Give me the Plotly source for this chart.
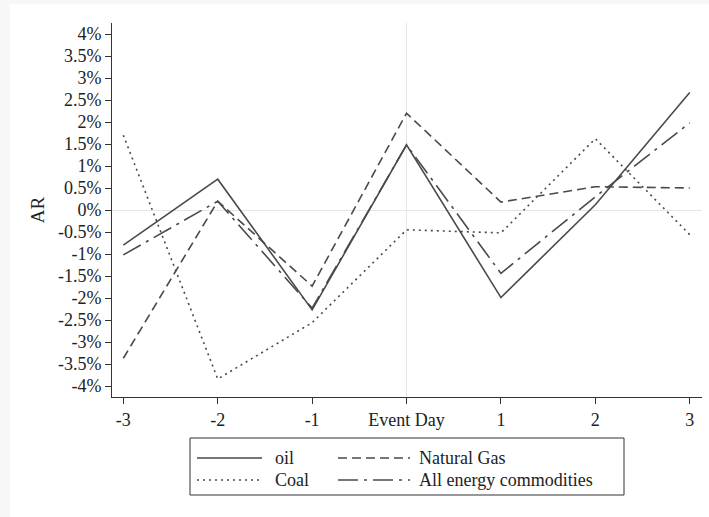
import plotly.graph_objects as go

# Event-window abnormal returns (%), days -3 .. +3
days = [-3, -2, -1, 0, 1, 2, 3]
day_labels = ["-3", "-2", "-1", "Event Day", "1", "2", "3"]

oil = [-0.80, 0.70, -2.27, 1.48, -1.99, 0.12, 2.67]
natural_gas = [-3.37, 0.20, -1.73, 2.20, 0.18, 0.53, 0.50]
coal = [1.70, -3.84, -2.56, -0.45, -0.52, 1.62, -0.56]
all_energy = [-1.02, 0.20, -2.23, 1.48, -1.44, 0.30, 1.98]

y_ticks = [4, 3.5, 3, 2.5, 2, 1.5, 1, 0.5, 0, -0.5, -1, -1.5, -2, -2.5, -3, -3.5, -4]
y_tick_text = [f"{v:g}%" for v in y_ticks]

series = [
    ("oil", oil, "solid"),
    ("Natural Gas", natural_gas, "9px,5px"),
    ("Coal", coal, "2px,4px"),
    ("All energy commodities", all_energy, "20px,6px,3px,6px"),
]

LINE_COLOR = "#4a4a4a"
FONT = "Liberation Serif"
FS = 18

W, H = 709, 517
L, R, T, B = 112, 7, 23, 120
PW, PH = W - L - R, H - T - B


def px(x):
    return (x - L) / PW


def py(y):
    return (H - B - y) / PH


fig = go.Figure()
for name, vals, dash in series:
    fig.add_trace(go.Scatter(
        x=days, y=vals, mode="lines", name=name, showlegend=False,
        line=dict(color=LINE_COLOR, width=1.6, dash=dash),
    ))

shapes = []
annotations = []

# outer frame of the graph region
shapes.append(dict(type="rect", xref="paper", yref="paper",
                   x0=px(10), x1=px(W + 5), y0=py(4), y1=py(H + 5),
                   fillcolor="white", line=dict(width=0), layer="below"))

# legend box
shapes.append(dict(type="rect", xref="paper", yref="paper",
                   x0=px(190), x1=px(624), y0=py(438), y1=py(495),
                   fillcolor="white", line=dict(color="#333333", width=1)))

legend_slots = [
    (197, 262, 273, 458),
    (338, 410, 417, 458),
    (197, 262, 273, 480),
    (338, 410, 417, 480),
]
for (name, _, dash), (lx0, lx1, tx, ly) in zip(series, legend_slots):
    shapes.append(dict(type="line", xref="paper", yref="paper",
                       x0=px(lx0), x1=px(lx1), y0=py(ly), y1=py(ly),
                       line=dict(color=LINE_COLOR, width=1.6, dash=dash)))
    annotations.append(dict(xref="paper", yref="paper", x=px(tx), y=py(ly),
                            text=name, showarrow=False, xanchor="left",
                            yanchor="middle",
                            font=dict(family=FONT, size=FS, color="#222222")))

fig.update_layout(
    width=W, height=H,
    margin=dict(l=L, r=R, t=T, b=B),
    paper_bgcolor="#f7f7f7",
    plot_bgcolor="white",
    font=dict(family=FONT, size=FS, color="#222222"),
    shapes=shapes,
    annotations=annotations,
    showlegend=False,
)

fig.update_xaxes(
    range=[-3.12, 3.13],
    tickvals=days, ticktext=day_labels,
    showgrid=False,
    zeroline=True, zerolinecolor="#e6e6e6", zerolinewidth=1,
    showline=True, linecolor="#333333", linewidth=1,
    ticks="outside", ticklen=6, tickcolor="#333333",
    tickfont=dict(family=FONT, size=FS),
)
fig.update_yaxes(
    range=[-4.25, 4.25],
    tickvals=y_ticks, ticktext=y_tick_text,
    showgrid=False,
    zeroline=True, zerolinecolor="#e6e6e6", zerolinewidth=1,
    showline=True, linecolor="#333333", linewidth=1,
    ticks="outside", ticklen=6, tickcolor="#333333",
    tickfont=dict(family=FONT, size=FS),
    title=dict(text="AR", font=dict(family=FONT, size=19), standoff=8),
)

fig.write_html("out.html")
